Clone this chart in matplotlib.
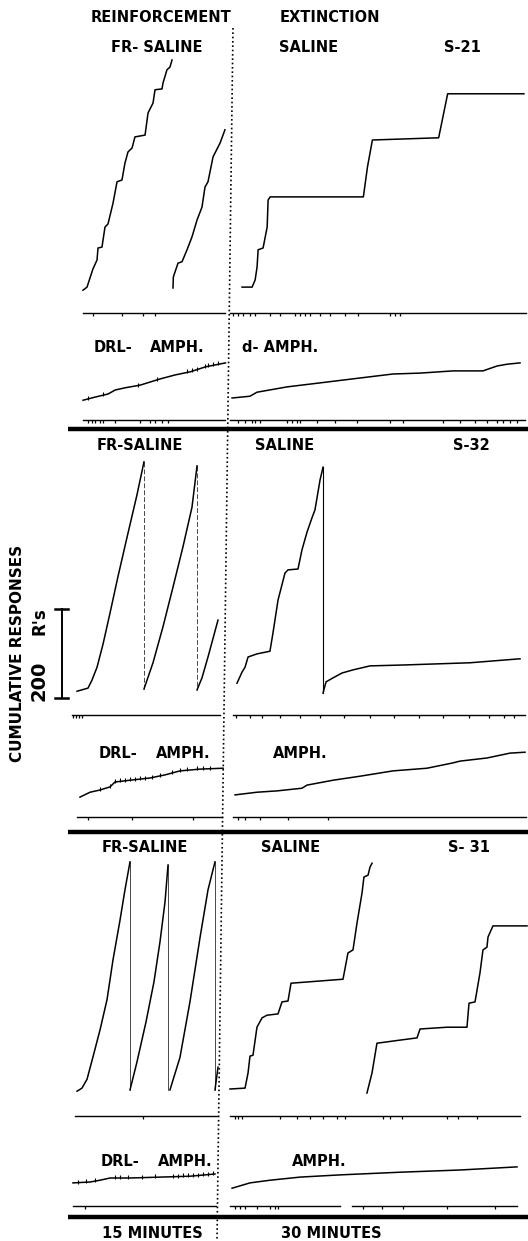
import numpy as np
import matplotlib
matplotlib.use("Agg")
import matplotlib.pyplot as plt

# ---- data: cumulative records (minutes, responses) ----
# S-21
s21_fr = [
    ([1.13, 1.55, 1.86, 2.16, 2.58, 2.68, 3.09, 3.40, 3.71, 4.23, 4.64, 5.15, 5.46, 5.77,
      6.19, 6.49, 7.53, 7.84, 8.35, 8.56, 9.28, 9.38, 9.79, 10.10, 10.31],
     [4, 11, 32, 52, 72, 99, 101, 146, 153, 200, 248, 252, 290, 315,
      324, 349, 353, 403, 425, 455, 457, 470, 500, 506, 522]),
    ([10.41, 10.45, 10.93, 11.34, 11.86, 12.37, 12.89, 13.40, 13.71, 14.02, 14.54, 15.26, 15.77],
     [9, 34, 65, 68, 95, 124, 162, 191, 236, 248, 304, 335, 365]),
]
s21_ext = [
    ([1.24, 2.28, 2.59, 2.79, 2.90, 3.41, 3.83, 3.93, 4.14, 13.75, 14.17, 14.68, 21.51, 22.44, 30.30],
     [11, 11, 27, 56, 95, 99, 146, 207, 214, 214, 281, 342, 347, 446, 446]),
]
s21_drl_t = [1.14, 2.38, 3.72, 4.45, 5.48, 7.03, 9.10, 10.65, 12.20, 13.75, 15.82]
s21_drl_r = [4, 11, 18, 27, 32, 38, 52, 61, 68, 79, 88]
s21_drl_sr = [1.65, 3.20, 6.80, 8.76, 11.86, 12.37, 12.89, 13.71, 14.02, 14.54, 15.05]
s21_amph_t = [0.21, 2.06, 2.78, 5.88, 9.28, 13.40, 16.80, 19.59, 22.99, 26.08, 27.53, 28.56, 29.90]
s21_amph_r = [9, 13, 22, 34, 43, 54, 63, 65, 70, 70, 81, 85, 88]
s21_ev = {
    "fr": [2.16, 5.15, 7.32, 8.56],
    "ext": [0.31, 0.82, 1.34, 2.06, 2.58, 4.12, 5.15, 6.70, 7.22, 7.73, 8.25, 9.28,
            10.31, 11.86, 13.20, 16.49, 17.01, 17.53],
    "drl": [1.65, 2.06, 2.37, 2.89, 3.20, 4.43, 7.01, 8.04, 8.56, 9.28, 9.90],
    "amph": [0.82, 1.55, 2.27, 2.58, 3.09, 5.88, 6.39, 6.91, 7.22, 8.97, 10.82, 13.09,
             16.49, 17.84, 21.96, 23.71, 25.26, 26.49, 27.53, 28.14, 28.87, 29.59],
}

# S-32
s32_fr = [
    ([0.52, 1.65, 2.06, 2.58, 3.20, 3.92, 4.74, 5.67, 6.70, 7.42],
     [4, 11, 29, 58, 110, 180, 262, 350, 446, 520]),
    ([7.42, 8.35, 9.38, 10.41, 11.44, 12.37, 12.89],
     [9, 68, 149, 238, 329, 418, 511]),
    ([12.89, 13.40, 14.02, 15.05],
     [7, 34, 81, 164]),
]
s32_ext = [
    ([0.72, 1.24, 1.55, 1.86, 2.78, 4.12, 4.43, 4.95, 5.67, 5.98, 7.01, 7.42, 7.94, 8.45,
      8.76, 9.28, 9.59],
     [22, 47, 58, 81, 88, 94, 135, 209, 270, 277, 279, 322, 362, 394, 412, 479, 508]),
    ([9.59, 9.90, 10.62, 11.55, 12.68, 14.43, 17.84, 24.74, 29.90],
     [0, 25, 34, 45, 52, 61, 63, 68, 77]),
]
s32_drl_t = [0.82, 1.86, 2.89, 3.92, 4.43, 5.98, 8.04, 9.59, 11.13, 13.20, 15.57]
s32_drl_r = [2, 13, 18, 25, 36, 40, 45, 52, 61, 65, 67]
s32_drl_sr = [2.89, 3.92, 4.43, 4.95, 5.46, 5.98, 6.49, 7.01, 7.53, 8.25, 9.07, 10.31,
              11.13, 11.86, 12.89, 13.51, 14.23]
s32_amph_t = [0.52, 2.78, 4.85, 7.42, 7.94, 10.62, 13.40, 16.80, 20.31, 22.99, 23.71,
              26.49, 28.87, 30.41]
s32_amph_r = [7, 13, 16, 22, 29, 40, 49, 61, 67, 79, 83, 90, 101, 103]
s32_ev = {
    "fr": [0.10, 0.41, 0.72, 1.03],
    "ext": [0.6, 2.1, 3.3, 5.2, 7.2, 9.3, 11.8, 14.4, 16.9, 19.5, 22.0, 24.6, 26.7, 28.2, 29.3],
    "drl": [1.65, 6.19, 12.47],
    "amph": [0.82, 1.55, 3.09, 5.98, 10.10],
}

# S-31
s31_fr = [
    ([0.52, 1.03, 1.55, 2.16, 2.89, 3.61, 4.23, 4.95, 5.46, 5.98],
     [4, 11, 31, 81, 142, 210, 300, 389, 457, 520]),
    ([5.98, 6.70, 7.63, 8.45, 9.07, 9.59, 9.90],
     [7, 70, 160, 250, 340, 430, 513]),
    ([10.10, 11.13, 12.16, 13.20, 14.02, 14.74],
     [7, 80, 205, 350, 457, 520]),
    ([14.74, 15.05],
     [7, 58]),
]
s31_ext = [
    ([0.00, 1.55, 1.86, 2.06, 2.37, 2.78, 3.30, 3.81, 4.95, 5.36, 5.98, 6.29, 11.65, 12.16,
      12.68, 13.09, 13.61, 13.81, 14.23, 14.43, 14.64],
     [9, 11, 45, 83, 85, 148, 169, 175, 178, 205, 207, 247, 256, 315,
      322, 382, 450, 486, 490, 508, 517]),
    ([14.12, 14.64, 15.15, 17.53, 19.28, 19.59, 22.37, 24.43, 24.64, 25.26, 25.77, 26.08,
      26.49, 26.60, 27.11, 30.62],
     [0, 45, 112, 119, 124, 144, 148, 148, 202, 205, 270, 322, 328, 351, 376, 376]),
]
s31_drl_t = [0.10, 1.86, 2.89, 3.92, 5.98, 9.07, 12.16, 14.74]
s31_drl_r = [16, 18, 22, 27, 27, 29, 31, 36]
s31_drl_sr = [0.62, 1.44, 2.37, 4.43, 4.95, 5.77, 7.22, 8.56, 10.41, 10.93, 11.44, 11.96,
              12.47, 12.99, 13.51, 14.02, 14.54]
s31_amph_t = [0.21, 2.06, 4.12, 7.22, 11.34, 17.53, 23.71, 29.59]
s31_amph_r = [4, 16, 22, 29, 34, 40, 45, 52]
s31_ev = {
    "fr": [7.32],
    "ext": [0.52, 0.82, 1.24, 5.15, 6.91, 8.25, 9.59, 11.03, 11.86, 15.77, 16.49, 17.73,
            22.37, 23.51, 25.46],
    "drl": [1.34],
    "amph": [0.52, 1.03, 1.55, 2.78, 4.12, 4.64, 4.95, 13.71, 15.67, 17.84, 22.37, 27.32],
}

SCALE_R = 200

# ---- layout (pixels on the 528 x 1241 page) ----
W, H = 528, 1241
PX_MIN = 9.7       # pixels per minute
RESP_PX = 2.25     # responses per pixel
X_REINF, X_EXT = 72, 230

fig = plt.figure(figsize=(W / 100, H / 100), dpi=100)
fig.patch.set_facecolor("white")

FONT = dict(family="DejaVu Sans", fontweight="bold", color="black")


def page_text(x, y, s, size=10.5, **kw):
    fig.text(x / W, 1 - y / H, s, ha="center", va="center", fontsize=size, **FONT, **kw)


def panel(x0, base):
    # full-page axes whose data units are minutes / responses with origin at (x0, base)
    ax = fig.add_axes([0, 0, 1, 1])
    ax.set_xlim(-x0 / PX_MIN, (W - x0) / PX_MIN)
    ax.set_ylim(-(H - base) * RESP_PX, base * RESP_PX)
    ax.set_facecolor("none")
    ax.axis("off")
    return ax


def event_line(ax, base, y_px, span, marks, gap=None):
    r = (base - y_px) * RESP_PX
    t0, t1 = span
    if gap is None:
        ax.plot([t0, t1], [r, r], color="black", lw=1.0)
    else:
        ax.plot([t0, gap[0]], [r, r], color="black", lw=1.0)
        ax.plot([gap[1], t1], [r, r], color="black", lw=1.0)
    ax.vlines(marks, r - 3 * RESP_PX, r, color="black", lw=0.9)


subjects = [
    dict(name="S-21", fr=s21_fr, ext=s21_ext, drl=(s21_drl_t, s21_drl_r), sr=s21_drl_sr,
         amph=(s21_amph_t, s21_amph_r), ev=s21_ev, cum=292, low=402, ev_cum=313, ev_low=420,
         spans=((1.1, 15.8), (0.0, 30.5), (1.1, 15.8), (0.0, 30.4)),
         head=48, low_txt=347, fr_txt=("FR- SALINE", 157), sal_x=309, name_x=462,
         drl_x=(113, 177), amph_txt=("d- AMPH.", 280), reset=None, ext_reset=None, gap=None),
    dict(name="S-32", fr=s32_fr, ext=s32_ext, drl=(s32_drl_t, s32_drl_r), sr=s32_drl_sr,
         amph=(s32_amph_t, s32_amph_r), ev=s32_ev, cum=693, low=798, ev_cum=715, ev_low=817,
         spans=((0.0, 15.3), (0.3, 30.4), (0.5, 15.5), (0.3, 30.5)),
         head=445, low_txt=753, fr_txt=("FR-SALINE", 140), sal_x=285, name_x=471,
         drl_x=(118, 183), amph_txt=("AMPH.", 300), reset=(0, (7, 3)), ext_reset="-", gap=None),
    dict(name="S- 31", fr=s31_fr, ext=s31_ext, drl=(s31_drl_t, s31_drl_r), sr=s31_drl_sr,
         amph=(s31_amph_t, s31_amph_r), ev=s31_ev, cum=1093, low=1190, ev_cum=1116, ev_low=1206,
         spans=((0.3, 15.0), (0.0, 29.9), (0.1, 14.8), (0.0, 29.6)),
         head=847, low_txt=1162, fr_txt=("FR-SALINE", 145), sal_x=291, name_x=469,
         drl_x=(120, 185), amph_txt=("AMPH.", 319), reset="-", ext_reset=None, gap=(11.3, 12.6)),
]

for s in subjects:
    sp = s["spans"]
    # FR reinforcement record with pen resets
    ax = panel(X_REINF, s["cum"])
    segs = s["fr"]
    for i, (t, r) in enumerate(segs):
        ax.plot(t, r, color="black", lw=1.1, solid_joinstyle="round")
        if s["reset"] is not None and i < len(segs) - 1:
            ax.plot([t[-1], t[-1]], [r[-1], segs[i + 1][1][0]], color="black", lw=0.5,
                    linestyle=s["reset"])
    event_line(ax, s["cum"], s["ev_cum"], sp[0], s["ev"]["fr"])

    # extinction record
    ax = panel(X_EXT, s["cum"])
    segs = s["ext"]
    for i, (t, r) in enumerate(segs):
        ax.plot(t, r, color="black", lw=1.1, solid_joinstyle="round")
        if s["ext_reset"] is not None and i < len(segs) - 1:
            ax.plot([t[-1], t[-1]], [r[-1], segs[i + 1][1][0]], color="black", lw=0.8)
    event_line(ax, s["cum"], s["ev_cum"], sp[1], s["ev"]["ext"])

    # DRL reinforcement record with reinforcement pips
    ax = panel(X_REINF, s["low"])
    t, r = s["drl"]
    ax.plot(t, r, color="black", lw=1.1)
    yy = np.interp(s["sr"], t, r)
    ax.vlines(s["sr"], yy - 1 * RESP_PX, yy + 3 * RESP_PX, color="black", lw=0.8)
    event_line(ax, s["low"], s["ev_low"], sp[2], s["ev"]["drl"])

    # amphetamine extinction record
    ax = panel(X_EXT, s["low"])
    t, r = s["amph"]
    ax.plot(t, r, color="black", lw=1.1)
    event_line(ax, s["low"], s["ev_low"], sp[3], s["ev"]["amph"], gap=s["gap"])

    # labels
    page_text(s["fr_txt"][1], s["head"], s["fr_txt"][0])
    page_text(s["sal_x"], s["head"], "SALINE")
    page_text(s["name_x"], s["head"], s["name"])
    page_text(s["drl_x"][0], s["low_txt"], "DRL-")
    page_text(s["drl_x"][1], s["low_txt"], "AMPH.")
    page_text(s["amph_txt"][1], s["low_txt"], s["amph_txt"][0])

# 200-response scale bar, drawn in S-32 response units
ax = panel(X_REINF, 693)
x_bar = -1.03
r0 = -11
ax.plot([x_bar, x_bar], [r0, r0 + SCALE_R], color="black", lw=1.4)
ax.plot([x_bar - 0.7, x_bar + 0.65], [r0, r0], color="black", lw=1.8)
ax.plot([x_bar - 0.7, x_bar + 0.65], [r0 + SCALE_R, r0 + SCALE_R], color="black", lw=1.8)

# page furniture: separators and the dotted session boundary
frame = fig.add_axes([0, 0, 1, 1])
frame.set_xlim(0, W)
frame.set_ylim(H, 0)
frame.set_facecolor("none")
frame.axis("off")
for y in (429, 832, 1217):
    frame.plot([68, W], [y, y], color="black", lw=3.2, solid_capstyle="butt")
frame.plot([233, 217], [28, 1241], color="black", lw=1.2, linestyle=(0, (1, 1.6)))

page_text(161, 17, "REINFORCEMENT")
page_text(330, 17, "EXTINCTION")
page_text(152, 1233, "15 MINUTES")
page_text(331, 1233, "30 MINUTES")
page_text(18, 653, "CUMULATIVE RESPONSES", size=11, rotation=90)
page_text(39, 681, "200", size=14, rotation=90)
page_text(39, 621, "R's", size=12, rotation=90)

fig.savefig("out.png", dpi=100, facecolor="white")
